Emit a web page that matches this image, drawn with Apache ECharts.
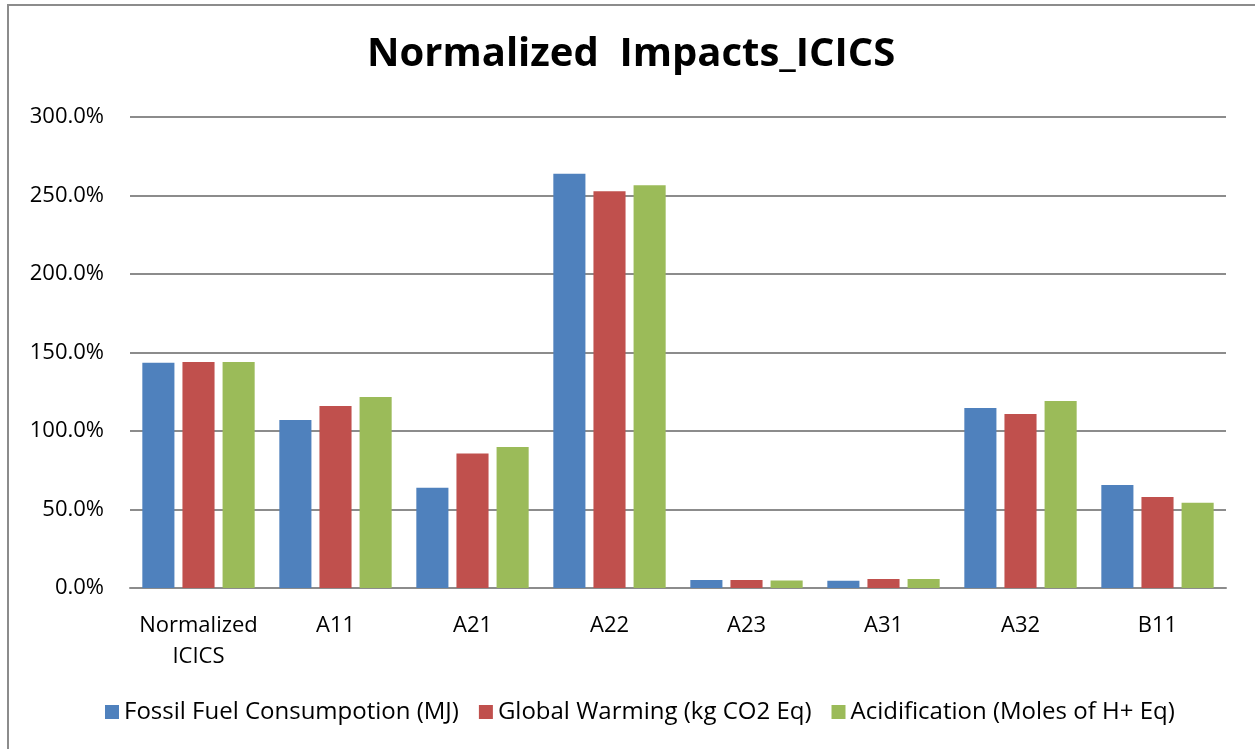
<!DOCTYPE html>
<html>
<head>
<meta charset="utf-8">
<script src="https://cdn.jsdelivr.net/npm/echarts@6/dist/echarts.min.js"></script>
<style>
  html, body { margin: 0; padding: 0; background: #fff; }
  #chart { width: 1255px; height: 749px; }
  .frame {
    position: absolute; left: 7px; top: 4px; right: -5px; bottom: -5px;
    border-left: 2px solid #8c8c8c; border-top: 2px solid #8c8c8c;
    pointer-events: none;
  }
</style>
</head>
<body>
<div id="chart"></div>
<div class="frame"></div>
<script>
// categories and values (percent)
const categories = ["Normalized\nICICS", "A11", "A21", "A22", "A23", "A31", "A32", "B11"];
const fossilFuel = [143.5, 107.0, 63.8, 263.8, 5.1, 4.6, 114.6, 65.6];
const globalWarming = [144.0, 116.0, 85.6, 252.7, 5.1, 5.7, 110.8, 58.0];
const acidification = [144.0, 121.7, 89.8, 256.5, 4.8, 5.7, 119.1, 54.3];
const seriesNames = [
  "Fossil Fuel Consumpotion (MJ)",
  "Global Warming (kg CO2 Eq)",
  "Acidification (Moles of H+ Eq)"
];
const colors = ["#4f81bd", "#c0504d", "#9bbb59"];

const font = "'Open Sans', sans-serif";

const chart = echarts.init(document.getElementById("chart"));

const makeSeries = (name, data, i) => ({
  name: name,
  type: "bar",
  data: data,
  barGap: "25%",
  barCategoryGap: "18%",
  itemStyle: { color: colors[i] },
  emphasis: { disabled: true }
});

chart.setOption({
  animation: false,
  textStyle: { fontFamily: font },
  title: {
    text: "Normalized  Impacts_ICICS",
    left: 362,
    top: 30,
    textStyle: { fontSize: 40, fontWeight: "bold", color: "#000", fontFamily: font }
  },
  legend: {
    bottom: 20,
    left: 100,
    itemWidth: 14,
    itemHeight: 14,
    itemGap: 20,
    icon: "rect",
    textStyle: { fontSize: 24, color: "#000", fontFamily: font },
    data: seriesNames
  },
  grid: { left: 130, right: 29, top: 117, bottom: 161 },
  xAxis: {
    type: "category",
    data: categories,
    axisLine: { lineStyle: { color: "#8c8c8c", width: 2 } },
    axisTick: { show: false },
    axisLabel: { interval: 0, fontSize: 22, color: "#000", margin: 22, lineHeight: 31, fontFamily: font }
  },
  yAxis: {
    type: "value",
    min: 0,
    max: 300,
    interval: 50,
    axisLine: { show: false },
    axisTick: { show: false },
    splitLine: { lineStyle: { color: "#8c8c8c", width: 2 } },
    axisLabel: {
      fontSize: 22, color: "#000", margin: 26, fontFamily: font,
      formatter: v => v.toFixed(1) + "%"
    }
  },
  series: [
    makeSeries(seriesNames[0], fossilFuel, 0),
    makeSeries(seriesNames[1], globalWarming, 1),
    makeSeries(seriesNames[2], acidification, 2)
  ]
});
</script>
</body>
</html>
